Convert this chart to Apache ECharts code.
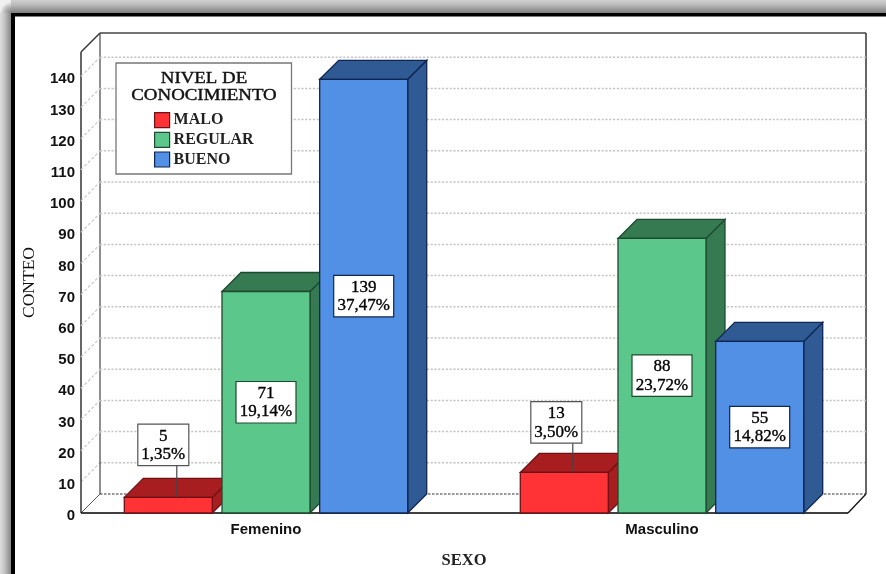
<!DOCTYPE html>
<html><head><meta charset="utf-8">
<style>html,body{margin:0;padding:0;background:#fff}#c{width:886px;height:574px;filter:blur(0.4px)}</style>
<script src="https://cdn.jsdelivr.net/npm/echarts@6/dist/echarts.min.js"></script>
</head><body><div id="c"></div>
<script>
const categories = ['Femenino', 'Masculino'];
const seriesNames = ['MALO', 'REGULAR', 'BUENO'];
const malo = [5, 13];
const regular = [71, 88];
const bueno = [139, 55];
const maloPct = ['1,35%', '3,50%'];
const regularPct = ['19,14%', '23,72%'];
const buenoPct = ['37,47%', '14,82%'];
const yTicks = [10, 20, 30, 40, 50, 60, 70, 80, 90, 100, 110, 120, 130, 140];
const yTop = 147.76;

const DEPTH = 19, BAR_W = 88, PITCH = 97.7;
const PAL = [
  {front:'#FF3236', top:'#A81E20', side:'#A81E20', edge:'#6E1114'},
  {front:'#5CC78A', top:'#367A52', side:'#367A52', edge:'#1E4A30'},
  {front:'#5290E6', top:'#305A94', side:'#305A94', edge:'#0E2650'}
];
const SERIF = '"Liberation Serif", serif';
const SANS = '"Liberation Sans", Arial, sans-serif';

function poly(points, fill, stroke, lw) {
  return {type:'polygon', shape:{points}, style:{fill, stroke, lineWidth:lw||1.3, lineJoin:'miter'}};
}
function line(x1,y1,x2,y2,stroke,lw,dash) {
  return {type:'line', shape:{x1,y1,x2,y2}, style:{stroke, lineWidth:lw||1, lineDash:dash||null, fill:null}};
}

function barSeries(idx, values, pcts) {
  return {
    type:'custom', name:seriesNames[idx], coordinateSystem:'cartesian2d', clip:false,
    z:3+idx,
    itemStyle:{color:PAL[idx].front, borderColor:PAL[idx].edge},
    encode:{x:0,y:1},
    data:values.map((v,i)=>[i,v]),
    renderItem(params, api){
      const cat = api.value(0), val = api.value(1);
      const p = api.coord([cat,val]), b = api.coord([cat,0]);
      const c = PAL[idx];
      const x0 = p[0] + (idx-1)*PITCH - BAR_W/2, x1 = x0+BAR_W;
      const yT = p[1], yB = b[1];
      const kids = [
        poly([[x1,yT],[x1+DEPTH,yT-DEPTH],[x1+DEPTH,yB-DEPTH],[x1,yB]], c.side, c.edge),
        poly([[x0,yT],[x0+DEPTH,yT-DEPTH],[x1+DEPTH,yT-DEPTH],[x1,yT]], c.top, c.edge),
        poly([[x0,yT],[x1,yT],[x1,yB],[x0,yB]], c.front, c.edge)
      ];
      const small = val < 30;
      const cx = x0 + BAR_W/2 + (small ? (cat===0 ? -5 : -8) : 0);
      const cy = small ? yT-(cat===0 ? 52.5 : 50) : (yT+yB)/2;
      const bw = small ? 51 : 60, bh = 41.5;
      if (small) kids.push(line(x0+BAR_W/2+DEPTH/2-1, cy+bh/2, x0+BAR_W/2+DEPTH/2-1, yT-0.5, '#444', 1.2));
      kids.push({type:'rect', shape:{x:cx-bw/2,y:cy-bh/2,width:bw,height:bh},
        style:{fill:'#fff', stroke:small?'#555':c.edge, lineWidth:1.2}});
      kids.push({type:'text', x:cx, y:cy+0.5, style:{
        text:val+'\n'+pcts[params.dataIndex],
        font:'17px '+SERIF, fill:'#000', stroke:'#000', lineWidth:0.35, align:'center', verticalAlign:'middle', lineHeight:18.5}});
      return {type:'group', children:kids};
    }
  };
}

const frameSeries = {
  type:'custom', name:'frame', coordinateSystem:'cartesian2d', clip:false, silent:true, z:1,
  encode:{y:0},
  data:yTicks.map(v=>[v]),
  renderItem(params, api){
    const xL = 81, xR = 848;
    const y = api.coord([0, api.value(0)])[1];
    const kids = [
      line(xL,y,xL+DEPTH,y-DEPTH,'#cccccc',1.3,[3,2]),
      line(xL+DEPTH,y-DEPTH,xR+DEPTH-1,y-DEPTH,'#c6c6c6',1.5,[2.2,1.6])
    ];
    if (params.dataIndex === 0) {
      const y0 = api.coord([0,0])[1], yT = api.coord([0,yTop])[1];
      kids.push(
        line(xL,y0,xL,yT,'#333',1.5),
        line(xL,yT,xL+DEPTH,yT-DEPTH,'#333',1.5),
        line(xL+DEPTH,yT-DEPTH,xR+DEPTH-1,yT-DEPTH,'#444',1.6),
        line(xL+DEPTH,yT-DEPTH,xL+DEPTH,y0-DEPTH,'#444',1.2),
        line(xR+DEPTH-1,yT-DEPTH,xR+DEPTH-1,y0-DEPTH,'#333',1.5),
        line(xL+DEPTH,y0-DEPTH,xR+DEPTH-1,y0-DEPTH,'#333',1.2,[2.5,1.5]),
        line(xL,y0,xL+DEPTH,y0-DEPTH,'#555',1),
        line(xR,y0,xR+DEPTH-1,y0-DEPTH,'#111',1.3),
        line(xL,y0,xR,y0,'#000',1.6)
      );
    }
    return {type:'group', children:kids};
  }
};

const edgeGradH = {type:'linear',x:0,y:0,x2:0,y2:1,colorStops:[{offset:0,color:'#d0d0d0'},{offset:.4,color:'#b8b8b8'},{offset:1,color:'#7e7e7e'}]};
const edgeGradV = {type:'linear',x:0,y:0,x2:1,y2:0,colorStops:[{offset:0,color:'#dedede'},{offset:.4,color:'#c4c4c4'},{offset:1,color:'#868686'}]};
const cornerGrad = {type:'radial',x:1,y:1,r:1,colorStops:[{offset:0,color:'#808080'},{offset:.6,color:'#bbbbbb'},{offset:1,color:'#f0f0f0'}]};

const option = {
  backgroundColor:'#fff',
  animation:false,
  grid:{left:68, right:26, top:52, bottom:61, outerBoundsMode:'none'},
  xAxis:{type:'category', data:categories, name:'SEXO', nameLocation:'center', nameGap:39,
    nameTextStyle:{fontFamily:SERIF, fontWeight:'bold', fontSize:16.5, color:'#222'},
    axisLine:{show:false}, axisTick:{show:false},
    axisLabel:{fontFamily:SANS, fontWeight:'bold', fontSize:15, color:'#111', margin:9}},
  yAxis:{type:'value', min:0, max:yTop, interval:10, offset:-13, name:'CONTEO', nameLocation:'center', nameGap:43,
    nameTextStyle:{fontFamily:SERIF, fontSize:17.5, color:'#111'},
    axisLine:{show:false}, axisTick:{show:false}, splitLine:{show:false},
    axisLabel:{fontFamily:SANS, fontWeight:'bold', fontSize:15, color:'#111', margin:6, showMaxLabel:false, verticalAlign:'top', lineHeight:6}},
  legend:{orient:'vertical', left:154, top:112, itemWidth:15, itemHeight:15, itemGap:3.5,
    data:seriesNames.map((n,i)=>({name:n,icon:'rect',itemStyle:{color:PAL[i].front,borderColor:PAL[i].edge,borderWidth:1.2}})),
    selectedMode:false, z:12,
    textStyle:{fontFamily:SERIF, fontWeight:'bold', fontSize:16, color:'#222', padding:[2,0,0,-1]}, padding:0},
  graphic:[
    {type:'rect', z:10, shape:{x:11,y:0,width:875,height:13}, style:{fill:edgeGradH}, silent:true},
    {type:'rect', z:10, shape:{x:0,y:13,width:11,height:561}, style:{fill:edgeGradV}, silent:true},
    {type:'rect', z:10, shape:{x:0,y:0,width:11,height:13}, style:{fill:cornerGrad}, silent:true},
    {type:'rect', z:11, shape:{x:11,y:13,width:875,height:3.5}, style:{fill:'#000'}, silent:true},
    {type:'rect', z:11, shape:{x:11,y:13,width:4,height:561}, style:{fill:'#000'}, silent:true},
    {type:'rect', z:10, shape:{x:116,y:63,width:175.5,height:111}, style:{fill:'#fff',stroke:'#777',lineWidth:1.3}, silent:true},
    {type:'text', z:11, x:204, y:87.5, scaleX:1.18, silent:true, style:{text:'NIVEL DE\nCONOCIMIENTO', font:'16px '+SERIF, fill:'#111', stroke:'#111', lineWidth:0.4, align:'center', verticalAlign:'middle', lineHeight:17}}
  ],
  series:[frameSeries, barSeries(0,malo,maloPct), barSeries(1,regular,regularPct), barSeries(2,bueno,buenoPct)]
};
const chart = echarts.init(document.getElementById('c'), null, {renderer:'canvas'});
chart.setOption(option);
</script></body></html>
